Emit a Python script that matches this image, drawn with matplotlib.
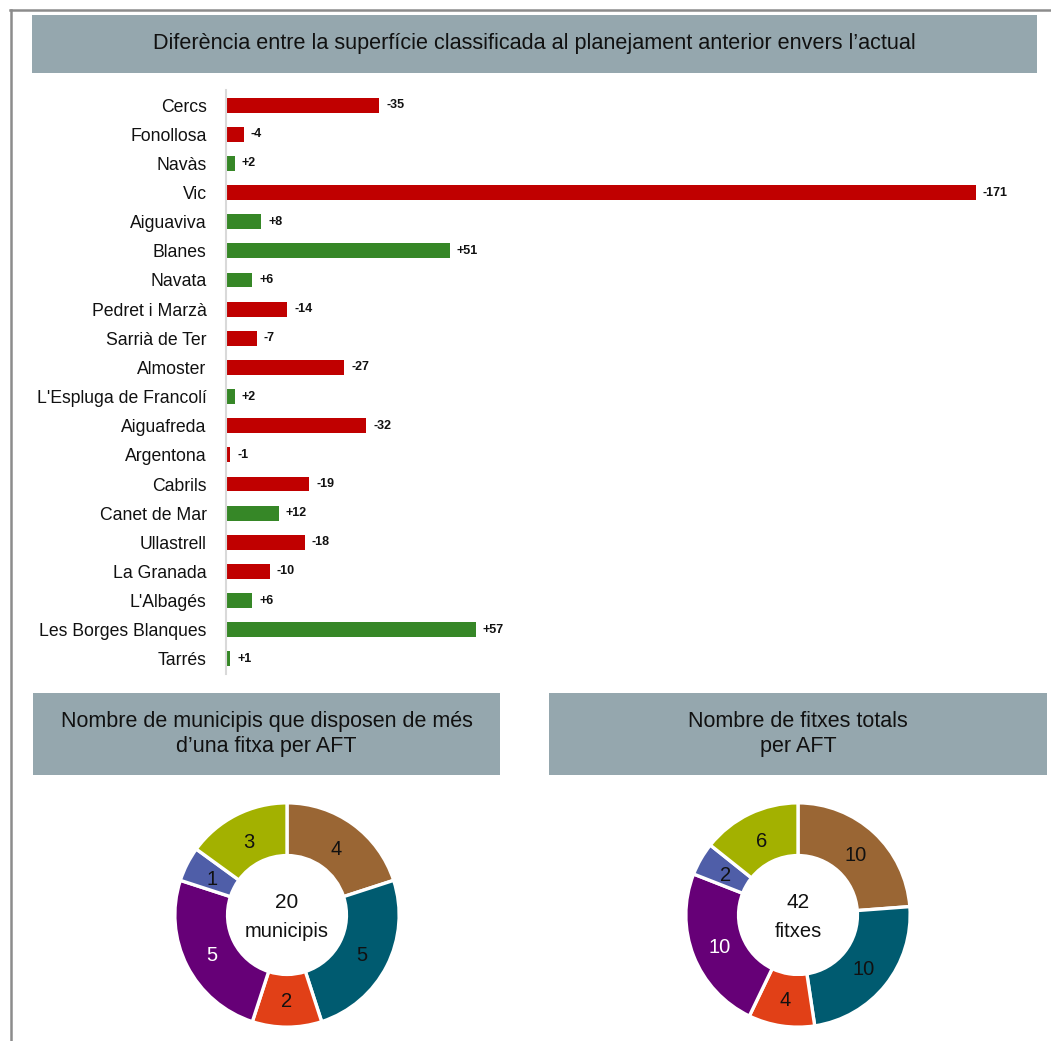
import matplotlib
matplotlib.use('Agg')
import matplotlib.pyplot as plt
import numpy as np
from matplotlib.patches import Rectangle
from matplotlib.lines import Line2D

plt.rcParams['font.family'] = ['Liberation Sans', 'DejaVu Sans']

W, H = 1051, 1041

# superfície: diferència (ha) per municipi
municipis = ['Cercs', 'Fonollosa', 'Navàs', 'Vic', 'Aiguaviva', 'Blanes', 'Navata',
             'Pedret i Marzà', 'Sarrià de Ter', 'Almoster', "L'Espluga de Francolí",
             'Aiguafreda', 'Argentona', 'Cabrils', 'Canet de Mar', 'Ullastrell',
             'La Granada', "L'Albagés", 'Les Borges Blanques', 'Tarrés']
diferencia = [-35, -4, 2, -171, 8, 51, 6, -14, -7, -27, 2, -32, -1, -19, 12, -18,
              -10, 6, 57, 1]

# fitxes per AFT
aft_colors = ['#9A6634', '#005B70', '#E14017', '#660077', '#4F5EA8', '#A3B100']
municipis_aft = [4, 5, 2, 5, 1, 3]
fitxes_aft = [10, 10, 4, 10, 2, 6]

RED = '#C00000'
GREEN = '#368727'
BOX = '#95A7AE'


def rect(x, y, w, h):
    # caixa en píxels (origen a dalt a l'esquerra) -> fracció de figura
    return [x / W, 1 - (y + h) / H, w / W, h / H]


def title_box(fig, x, y, w, h, text, size):
    fx, fy, fw, fh = rect(x, y, w, h)
    fig.add_artist(Rectangle((fx, fy), fw, fh, transform=fig.transFigure,
                             facecolor=BOX, edgecolor='none'))
    fig.text(fx + fw / 2, fy + fh / 2, text, ha='center', va='center',
             fontsize=size, color='#111111', linespacing=1.25)


fig = plt.figure(figsize=(W / 100, H / 100), dpi=100)

# marc exterior
fig.add_artist(Line2D([10 / W, 1], [1 - 10 / H] * 2, transform=fig.transFigure,
                      color='#8C8C8C', lw=1.8))
fig.add_artist(Line2D([11 / W] * 2, [0, 1 - 10 / H], transform=fig.transFigure,
                      color='#8C8C8C', lw=1.8))

title_box(fig, 32, 15, 1005, 58,
          'Diferència entre la superfície classificada al planejament anterior envers l’actual', 15.6)
title_box(fig, 33, 693, 467, 82, 'Nombre de municipis que disposen de més\nd’una fitxa per AFT', 15.5)
title_box(fig, 549, 693, 498, 82, 'Nombre de fitxes totals\nper AFT', 15.5)

# barres
ax = fig.add_axes(rect(226, 90.5, 811, 583))
pos = list(range(len(municipis)))
valors = [abs(v) for v in diferencia]
colors = [RED if v < 0 else GREEN for v in diferencia]
ax.barh(pos, valors, height=0.51, color=colors)
for p, v, d in zip(pos, valors, diferencia):
    ax.annotate(f'{d:+d}', (v, p), xytext=(5, 0), textcoords='offset points',
                ha='left', va='center', fontsize=9, fontweight='bold', color='#111111')
ax.set_ylim(len(municipis) - 0.5, -0.5)
ax.set_xlim(0, 185)
ax.set_yticks(pos)
ax.set_yticklabels(municipis, fontsize=12.7, color='#111111')
ax.tick_params(axis='y', length=0, pad=14)
ax.set_xticks([])
for s in ['top', 'right', 'bottom']:
    ax.spines[s].set_visible(False)
ax.spines['left'].set_color('#D9D9D9')
ax.spines['left'].set_linewidth(1.5)


def donut(cx, cy, valors, centre):
    a = fig.add_axes(rect(cx - 120, cy - 120, 240, 240))
    wedges, _ = a.pie(valors, colors=aft_colors, startangle=90, counterclock=False,
                      radius=1, wedgeprops=dict(width=0.47, edgecolor='white', linewidth=2.4))
    for i, (w, v) in enumerate(zip(wedges, valors)):
        ang = np.deg2rad((w.theta1 + w.theta2) / 2)
        r = 0.75
        col = 'white' if i == 3 else '#111111'
        a.text(r * np.cos(ang), r * np.sin(ang) - 0.02, str(v), ha='center', va='center',
               fontsize=14.5, color=col)
    a.text(0, 0.11, str(sum(valors)), ha='center', va='center', fontsize=15, color='#111111')
    a.text(0, -0.15, centre, ha='center', va='center', fontsize=14.5, color='#111111')
    a.set_xlim(-1.07, 1.07)
    a.set_ylim(-1.07, 1.07)
    a.set_aspect('equal')
    a.axis('off')


donut(287, 915, municipis_aft, 'municipis')
donut(798, 915, fitxes_aft, 'fitxes')

fig.savefig('out.png', dpi=100)
